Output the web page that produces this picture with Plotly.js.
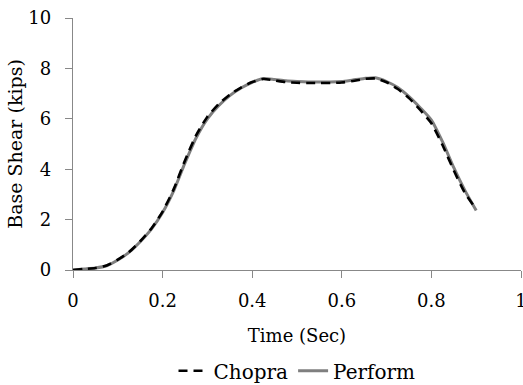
<!DOCTYPE html>
<html>
<head>
<meta charset="utf-8">
<script src="https://cdn.plot.ly/plotly-3.0.1.min.js"></script>
</head>
<body style="margin:0">
<div id="chart" style="width:523px;height:385px"></div>
<script>
var time = [0, 0.025, 0.05, 0.075, 0.1, 0.125, 0.15, 0.175, 0.2, 0.225, 0.25, 0.275, 0.3, 0.325, 0.35, 0.375, 0.4, 0.425, 0.45, 0.475, 0.5, 0.525, 0.55, 0.575, 0.6, 0.625, 0.65, 0.675, 0.7, 0.725, 0.75, 0.775, 0.8, 0.825, 0.85, 0.875, 0.9];
var chopra = [0, 0.04, 0.08, 0.18, 0.41, 0.71, 1.14, 1.65, 2.32, 3.22, 4.35, 5.35, 6.08, 6.58, 6.96, 7.24, 7.46, 7.58, 7.52, 7.46, 7.43, 7.42, 7.42, 7.42, 7.44, 7.5, 7.58, 7.6, 7.45, 7.18, 6.82, 6.35, 5.82, 4.95, 3.95, 3.05, 2.42];
var perform = [0, 0.04, 0.08, 0.17, 0.4, 0.7, 1.12, 1.62, 2.28, 3.15, 4.25, 5.25, 6.0, 6.52, 6.92, 7.22, 7.45, 7.6, 7.56, 7.51, 7.48, 7.46, 7.46, 7.46, 7.48, 7.54, 7.6, 7.63, 7.48, 7.24, 6.88, 6.44, 5.95, 5.08, 4.06, 3.15, 2.36];
var seriesNames = ["Chopra", "Perform"];
var xTicks = [0, 0.2, 0.4, 0.6, 0.8, 1];
var yTicks = [0, 2, 4, 6, 8, 10];

var serif = "DejaVu Serif";
var traces = [
  {x: time, y: perform, name: seriesNames[1], type: "scatter", mode: "lines",
   line: {color: "#7f7f7f", width: 3, shape: "spline", smoothing: 0.6}},
  {x: time, y: chopra, name: seriesNames[0], type: "scatter", mode: "lines",
   line: {color: "#000000", width: 2.6, dash: "9px,6px", shape: "spline", smoothing: 0.6}}
];
var layout = {
  width: 523, height: 385,
  margin: {l: 73, r: 2, t: 18, b: 115, autoexpand: false},
  paper_bgcolor: "#ffffff", plot_bgcolor: "#ffffff",
  showlegend: true,
  legend: {orientation: "h", x: 0.5, xanchor: "center", y: -0.40, yanchor: "middle",
           traceorder: "reversed", font: {family: serif, size: 20, color: "#000000"}},
  xaxis: {range: [0, 1], tickvals: xTicks, ticktext: xTicks.map(String), showgrid: false, zeroline: false,
          showline: true, linecolor: "#888888", linewidth: 1.2, ticks: "outside", ticklen: 7, tickcolor: "#888888",
          tickfont: {family: serif, size: 18, color: "#000000"}, fixedrange: true, ticklabeloverflow: "allow", automargin: false,
          ticklabelstandoff: 7,
          title: {text: "Time (Sec)", font: {family: serif, size: 18, color: "#000000"}, standoff: 19}},
  yaxis: {range: [0, 10], tickvals: yTicks, ticktext: yTicks.map(String), showgrid: false, zeroline: false,
          showline: true, linecolor: "#888888", linewidth: 1.2, ticks: "outside", ticklen: 7, tickcolor: "#888888",
          tickfont: {family: serif, size: 18, color: "#000000"}, fixedrange: true, automargin: false,
          ticklabelstandoff: 10,
          title: {text: "Base Shear (kips)", font: {family: serif, size: 19, color: "#000000"}, standoff: 0}}
};
Plotly.newPlot("chart", traces, layout, {displayModeBar: false, staticPlot: true});
</script>
</body>
</html>
